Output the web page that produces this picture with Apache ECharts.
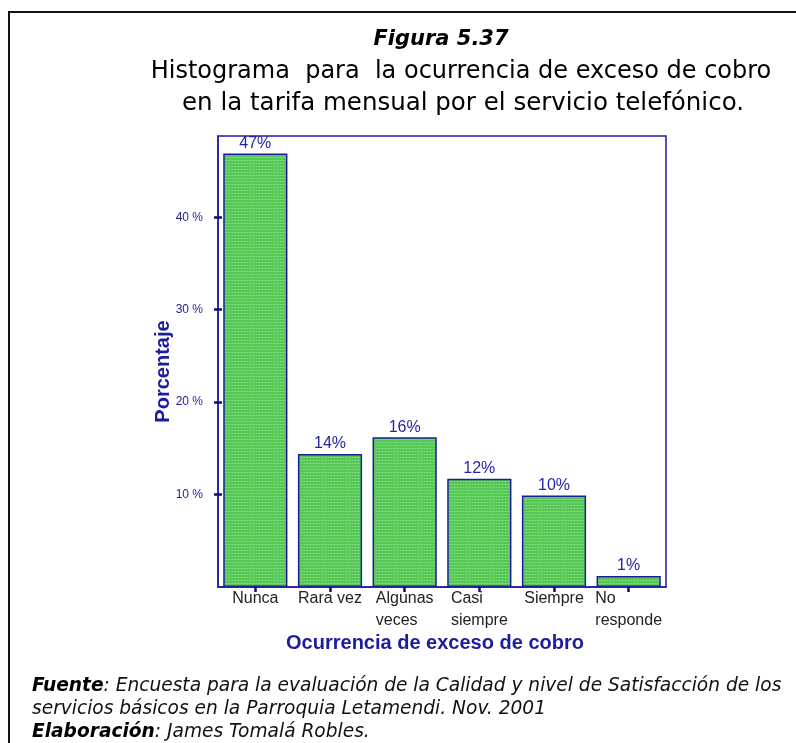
<!DOCTYPE html>
<html>
<head>
<meta charset="utf-8">
<script src="https://cdn.jsdelivr.net/npm/echarts@6/dist/echarts.min.js"></script>
<style>
  html, body { margin: 0; padding: 0; background: #ffffff; }
  #chart { width: 796px; height: 743px; }
</style>
</head>
<body>
<div id="chart"></div>
<script>
// Survey answers: how often the monthly phone bill was overcharged
const categories = ['Nunca', 'Rara vez', 'Algunas\nveces', 'Casi\nsiempre', 'Siempre', 'No\nresponde'];
const percentages = [46.9, 14.4, 16.2, 11.7, 9.9, 1.2];
const yTickValues = [10, 20, 30, 40];

const NAVY = '#1c1c9e';
const NAVY_DARK = '#10107c';

// Dotted green fill for the bars
function makeBarPattern() {
  const c = document.createElement('canvas');
  c.width = 3; c.height = 3;
  const g = c.getContext('2d');
  g.fillStyle = '#57c853';
  g.fillRect(0, 0, 3, 3);
  g.fillStyle = '#86dc9c';
  g.fillRect(1, 1, 1, 1);
  g.fillStyle = '#68cf60';
  g.fillRect(0, 1, 1, 1);
  g.fillRect(2, 1, 1, 1);
  return c;
}

// Category names: each block is centred under its tick, lines left-aligned inside it
const categoryLabel = v => v.split('\n').map(s => '{c|' + s + '}').join('\n');

const chart = echarts.init(document.getElementById('chart'), null, { renderer: 'canvas' });

const option = {
  backgroundColor: '#ffffff',
  animation: false,
  grid: {
    left: 218, right: 130, top: 136, bottom: 156,
    show: true, borderColor: NAVY, borderWidth: 1.5, backgroundColor: 'transparent'
  },
  xAxis: [
    {
      type: 'category',
      data: categories,
      position: 'bottom',
      axisLine: { show: true, lineStyle: { color: NAVY, width: 1.5 } },
      axisTick: { show: true, alignWithLabel: true, length: 5, lineStyle: { color: NAVY_DARK, width: 2.5 } },
      axisLabel: {
        interval: 0, margin: 1,
        formatter: categoryLabel,
        rich: {
          c: {
            align: 'left', color: '#222222', fontFamily: 'Liberation Sans',
            fontSize: 16, lineHeight: 22
          }
        }
      },
      name: 'Ocurrencia de exceso de cobro',
      nameLocation: 'middle',
      nameGap: 40,
      nameTextStyle: {
        color: NAVY, fontFamily: 'Liberation Sans', fontWeight: 'bold', fontSize: 20,
        padding: [0, 14, 0, 0]
      }
    },
    {
      type: 'category',
      data: categories,
      position: 'bottom',
      axisLine: { show: false },
      axisTick: { show: true, inside: true, alignWithLabel: true, length: 4, lineStyle: { color: NAVY_DARK, width: 2.5 } },
      axisLabel: { show: false }
    }
  ],
  yAxis: [
    {
      type: 'value',
      min: 0, max: 48.8, interval: 10,
      axisLine: { show: true, lineStyle: { color: NAVY, width: 1.5 } },
      axisTick: { show: true, length: 4, customValues: yTickValues, lineStyle: { color: NAVY_DARK, width: 2.5 } },
      axisLabel: {
        customValues: yTickValues,
        color: NAVY, fontFamily: 'Liberation Sans', fontSize: 12, margin: 15,
        formatter: v => (yTickValues.indexOf(v) >= 0 ? v + ' %' : '')
      },
      splitLine: { show: false },
      name: 'Porcentaje',
      nameLocation: 'middle',
      nameGap: 45,
      nameMoveOverlap: false,
      nameTextStyle: {
        color: NAVY, fontFamily: 'Liberation Sans', fontWeight: 'bold', fontSize: 20,
        padding: [0, 20, 0, 0]
      }
    },
    {
      type: 'value',
      min: 0, max: 48.8, interval: 10,
      position: 'left',
      axisLine: { show: false },
      axisTick: { show: true, inside: true, length: 4, customValues: yTickValues, lineStyle: { color: NAVY_DARK, width: 2.5 } },
      axisLabel: { show: false },
      splitLine: { show: false }
    }
  ],
  series: [
    {
      type: 'bar',
      data: percentages,
      xAxisIndex: 0,
      yAxisIndex: 0,
      barCategoryGap: '14%',
      itemStyle: {
        color: { image: makeBarPattern(), repeat: 'repeat' },
        borderColor: NAVY,
        borderWidth: 1.5
      },
      label: {
        show: true,
        position: 'top',
        distance: 2,
        color: '#2424a8',
        fontFamily: 'Liberation Sans',
        fontSize: 16,
        formatter: p => Math.round(p.value) + '%'
      }
    }
  ],
  graphic: [
    // outer frame (left and top edges)
    {
      type: 'polyline',
      shape: { points: [[9, 743], [9, 12], [796, 12]] },
      style: { stroke: '#111111', lineWidth: 2, fill: null }
    },
    {
      type: 'text', x: 441, y: 40,
      style: {
        text: 'Figura 5.37', fill: '#000000',
        font: 'italic bold 21px "DejaVu Sans"',
        align: 'center', verticalAlign: 'middle'
      }
    },
    {
      type: 'text', x: 461, y: 72,
      style: {
        text: 'Histograma  para  la ocurrencia de exceso de cobro', fill: '#000000',
        font: '24px "DejaVu Sans"',
        align: 'center', verticalAlign: 'middle'
      }
    },
    {
      type: 'text', x: 463, y: 104,
      style: {
        text: 'en la tarifa mensual por el servicio telefónico.', fill: '#000000',
        font: '24.5px "DejaVu Sans"',
        align: 'center', verticalAlign: 'middle'
      }
    },
    {
      type: 'text', x: 32, y: 686,
      style: {
        text: '{b|Fuente}{r|: Encuesta para la evaluación de la Calidad y nivel de Satisfacción de los}',
        verticalAlign: 'middle',
        rich: {
          b: { fontFamily: 'DejaVu Sans', fontStyle: 'italic', fontWeight: 'bold', fontSize: 18.6, fill: '#000000' },
          r: { fontFamily: 'DejaVu Sans', fontStyle: 'italic', fontSize: 18.6, fill: '#111111' }
        }
      }
    },
    {
      type: 'text', x: 32, y: 709,
      style: {
        text: 'servicios básicos en la Parroquia Letamendi. Nov. 2001',
        verticalAlign: 'middle',
        font: 'italic 18.6px "DejaVu Sans"', fill: '#111111'
      }
    },
    {
      type: 'text', x: 32, y: 732,
      style: {
        text: '{b|Elaboración}{r|: James Tomalá Robles.}',
        verticalAlign: 'middle',
        rich: {
          b: { fontFamily: 'DejaVu Sans', fontStyle: 'italic', fontWeight: 'bold', fontSize: 18.6, fill: '#000000' },
          r: { fontFamily: 'DejaVu Sans', fontStyle: 'italic', fontSize: 18.6, fill: '#111111' }
        }
      }
    }
  ]
};

chart.setOption(option);
</script>
</body>
</html>
